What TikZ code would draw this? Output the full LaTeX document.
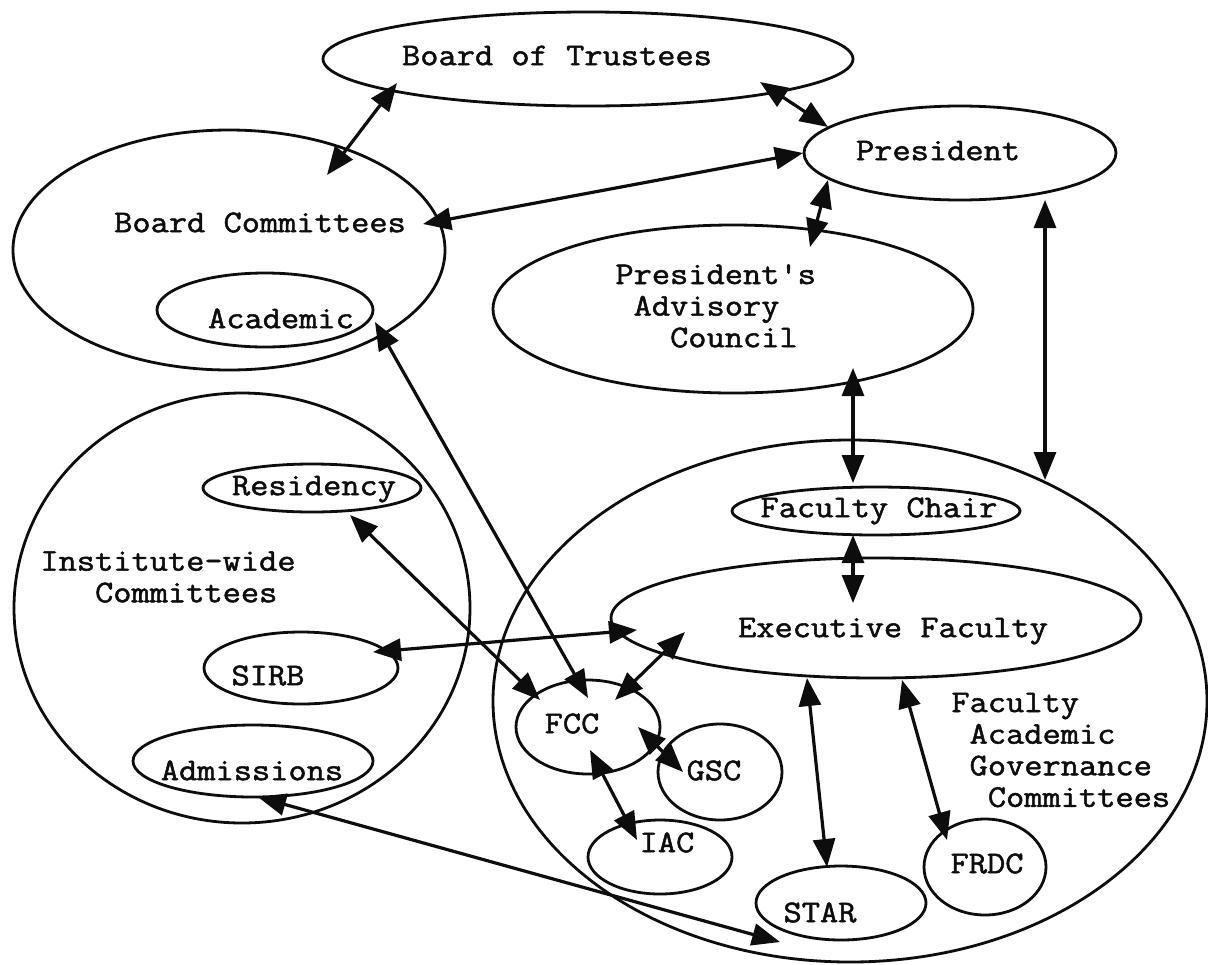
\documentclass[tikz,border=0pt]{standalone}
\usepackage{fontspec}
\setmonofont[FakeStretch=1.12, FakeBold=1.6]{Latin Modern Mono}
\usepackage{tikz}
\usetikzlibrary{shapes.geometric,arrows.meta,calc}
\definecolor{ink}{gray}{0.05}
\tikzset{
  oval/.style={ellipse, draw=ink, line width=1.4pt, inner sep=0pt, outer sep=0pt},
  lbl/.style={font=\ttfamily\fontsize{15.8}{15.8}\selectfont, text=ink, inner sep=0pt,
              text height=1.6ex, text depth=.4ex},
  blk/.style={font=\ttfamily\fontsize{15.8}{15.8}\selectfont, text=ink, inner sep=0pt,
              align=left, anchor=west},
  flow/.style={{Triangle[length=14pt,width=11pt]}-{Triangle[length=14pt,width=11pt]},
               draw=ink, line width=1.6pt},
}
\begin{document}
\begin{tikzpicture}[x=0.5pt, y=-0.5pt]
  \fill[white] (0,0) rectangle (1208,964);
  \useasboundingbox (0,0) rectangle (1208,964);
  % governing side
  \node[oval, minimum width=265pt, minimum height=47pt] (bot) at (588,59) {};
  \node[oval, minimum width=156pt, minimum height=47pt] (pres) at (960,153) {};
  \node[oval, minimum width=216pt, minimum height=120pt] (bc) at (229,250) {};
  \node[oval, minimum width=108pt, minimum height=37pt] (acad) at (265,310) {};
  \node[oval, minimum width=240pt, minimum height=84pt] (pac) at (733,309) {};
  \node[lbl] (bot-t) at (557,60) {Board of Trustees};
  \node[lbl] (pres-t) at (938,155) {President};
  \node[lbl] (bc-t) at (260,227) {Board Committees};
  \node[lbl] (acad-t) at (281,323) {Academic};
  \node[blk] (pac-t) at (615,306) {President's\\~Advisory\\~~~Council};
  % institute-wide committees
  \node[oval, minimum width=228pt, minimum height=215pt] (inst) at (242,608) {};
  \node[oval, minimum width=109pt, minimum height=24pt] (res) at (312,488) {};
  \node[oval, minimum width=97pt, minimum height=36pt] (sirb) at (301,668) {};
  \node[oval, minimum width=120pt, minimum height=36pt] (adm) at (253,761) {};
  \node[blk] (inst-t) at (40,577) {Institute-wide\\~~~Committees};
  \node[lbl] (res-t) at (314,490) {Residency};
  \node[lbl] (sirb-t) at (268,680) {SIRB};
  \node[lbl] (adm-t) at (252,775) {Admissions};
  % faculty academic governance
  \node[oval, minimum width=357pt, minimum height=261pt] (fac) at (850,701) {};
  \node[oval, minimum width=144pt, minimum height=24pt] (chair) at (876,511) {};
  \node[oval, minimum width=265pt, minimum height=60pt] (exec) at (876,618) {};
  \node[oval, minimum width=72pt, minimum height=47pt] (fcc) at (588,727) {};
  \node[oval, minimum width=62pt, minimum height=48pt] (gsc) at (720,772) {};
  \node[oval, minimum width=72pt, minimum height=37pt] (iac) at (660,857) {};
  \node[oval, minimum width=85pt, minimum height=37pt] (star) at (841,903) {};
  \node[oval, minimum width=61pt, minimum height=48pt] (frdc) at (985,867) {};
  \node[blk] (fac-t) at (951,750) {Faculty\\~Academic\\~Governance\\~~Committees};
  \node[lbl] (chair-t) at (879,512) {Faculty Chair};
  \node[lbl] (exec-t) at (893,632) {Executive Faculty};
  \node[lbl] (fcc-t) at (572,728) {FCC};
  \node[lbl] (gsc-t) at (714,775) {GSC};
  \node[lbl] (iac-t) at (667,847) {IAC};
  \node[lbl] (star-t) at (820,917) {STAR};
  \node[lbl] (frdc-t) at (987,868) {FRDC};
  % links
  \draw[flow] ($(bot)+(-191,24)$) -- ($(bc)+(98,-75)$);
  \draw[flow] ($(bot)+(172,23)$) -- ($(pres)+(-132,-26)$);
  \draw[flow] ($(bc)+(194,-26)$) -- ($(pres)+(-157,0)$);
  \draw[flow] ($(pres)+(-132,27)$) -- ($(pac)+(77,-62)$);
  \draw[flow] ($(pres)+(85,47)$) -- ($(fac)+(195,-221)$);
  \draw[flow] ($(pac)+(120,59)$) -- ($(chair)+(-23,-28)$);
  \draw[flow] ($(chair)+(-23,24)$) -- ($(exec)+(-23,-15)$);
  \draw[flow] ($(acad)+(110,12)$) -- ($(fcc)+(0,-29)$);
  \draw[flow] ($(res)+(38,27)$) -- ($(fcc)+(-48,-27)$);
  \draw[flow] ($(sirb)+(72,-16)$) -- ($(exec)+(-239,12)$);
  \draw[flow] ($(fcc)+(27,-27)$) -- ($(exec)+(-191,14)$);
  \draw[flow] ($(fcc)+(50,0)$) -- ($(gsc)+(-37,0)$);
  \draw[flow] ($(fcc)+(2,23)$) -- ($(iac)+(-23,-17)$);
  \draw[flow] ($(exec)+(-69,60)$) -- ($(star)+(-14,-36)$);
  \draw[flow] ($(exec)+(26,62)$) -- ($(frdc)+(-38,-27)$);
  \draw[flow] ($(adm)+(5,36)$) -- ($(star)+(-61,39)$);
\end{tikzpicture}
\end{document}
